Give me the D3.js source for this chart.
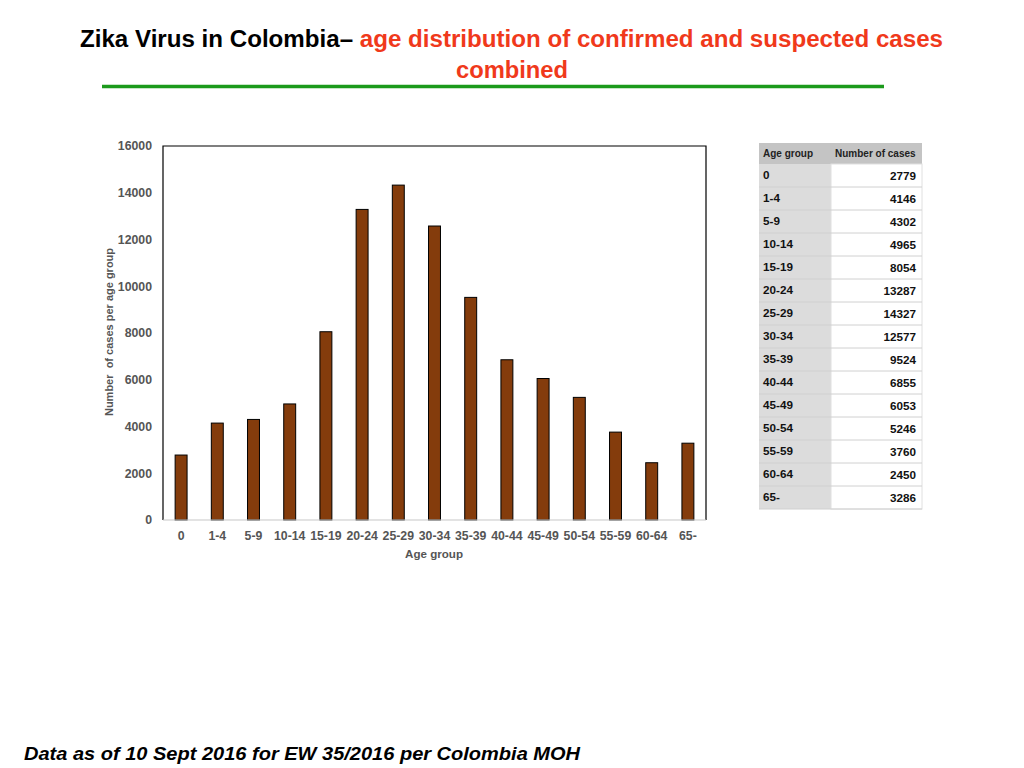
<!DOCTYPE html>
<html><head><meta charset="utf-8">
<script src="https://cdn.jsdelivr.net/npm/d3@7"></script>
<style>body{margin:0;background:#fff;font-family:"Liberation Sans",Arial,sans-serif}</style>
</head><body>
<svg id="c" width="1024" height="768"></svg>
<script>
const categories = ["0","1-4","5-9","10-14","15-19","20-24","25-29","30-34","35-39","40-44","45-49","50-54","55-59","60-64","65-"];
const cases = [2779,4146,4302,4965,8054,13287,14327,12577,9524,6855,6053,5246,3760,2450,3286];
const yTicks = [0,2000,4000,6000,8000,10000,12000,14000,16000];

const svg = d3.select("#c");
const F = "Liberation Sans, Arial, sans-serif";

// Title
const t1 = svg.append("text").attr("x",80).attr("y",47).attr("font-family",F)
  .attr("font-weight","bold").attr("font-size",23.5)
  .attr("textLength",863).attr("lengthAdjust","spacingAndGlyphs");
t1.append("tspan").attr("fill","#000").text("Zika Virus in Colombia\u2013 ");
t1.append("tspan").attr("fill","#f0391b").text("age  distribution of confirmed and suspected cases");
svg.append("text").attr("x",512).attr("y",77.5).attr("text-anchor","middle").attr("font-family",F)
  .attr("font-weight","bold").attr("font-size",23).attr("fill","#f0391b")
  .attr("textLength",112).attr("lengthAdjust","spacingAndGlyphs").text("combined");
svg.append("line").attr("x1",102).attr("x2",884).attr("y1",86.5).attr("y2",86.5)
  .attr("stroke","#1c9a1c").attr("stroke-width",3.5);

// Chart
const L=163,R=706,T=146,B=520;
const x = d3.scaleBand().domain(categories).range([L,R]).paddingInner(0.67).paddingOuter(0.335);
const y = d3.scaleLinear().domain([0,16000]).range([B,T]);

svg.append("g").selectAll("rect").data(cases).join("rect")
  .attr("x",(d,i)=>x(categories[i])).attr("width",x.bandwidth())
  .attr("y",d=>y(d)).attr("height",d=>B-y(d))
  .attr("fill","#843c0c").attr("stroke","#000").attr("stroke-width",1);

// frame
svg.append("path").attr("d",`M${L},${B}V${T}H${R}V${B}`).attr("fill","none").attr("stroke","#000").attr("stroke-width",1.2);
svg.append("line").attr("x1",L).attr("x2",R).attr("y1",B).attr("y2",B).attr("stroke","#c8c8c8").attr("stroke-width",1.2);

const ya = svg.append("g").attr("transform",`translate(${L},0)`)
  .call(d3.axisLeft(y).tickValues(yTicks).tickSize(0).tickPadding(11).tickFormat(d3.format("d")));
ya.select(".domain").remove();
ya.selectAll("text").attr("font-family",F).attr("font-weight","bold").attr("font-size",12.3).attr("fill","#555");

const xa = svg.append("g").attr("transform",`translate(0,${B})`)
  .call(d3.axisBottom(x).tickSize(0).tickPadding(11));
xa.select(".domain").remove();
xa.selectAll("text").attr("font-family",F).attr("font-weight","bold").attr("font-size",12.3).attr("fill","#555");

svg.append("text").attr("x",434).attr("y",558).attr("text-anchor","middle").attr("font-family",F)
  .attr("font-weight","bold").attr("font-size",11.6).attr("fill","#555").text("Age group");
svg.append("text").attr("transform","translate(113,332) rotate(-90)").attr("text-anchor","middle")
  .attr("font-family",F).attr("font-weight","bold").attr("font-size",11).attr("fill","#555")
  .style("white-space","pre")
  .text("Number  of cases per age group");

// Table
const tx=759, tc=831, tr=922, th0=143, th1=164, rh=23;
svg.append("rect").attr("x",tx).attr("y",th0).attr("width",tr-tx).attr("height",th1-th0).attr("fill","#c4c4c4");
svg.append("rect").attr("x",tx).attr("y",th1).attr("width",tc-tx).attr("height",rh*categories.length).attr("fill","#dcdcdc");
svg.append("rect").attr("x",tc).attr("y",th1).attr("width",tr-tc).attr("height",rh*categories.length).attr("fill","#fff").attr("stroke","#e0e0e0");
svg.append("text").attr("x",763).attr("y",157).attr("font-family",F).attr("font-size",10).attr("font-weight","600").attr("fill","#222").text("Age group");
svg.append("text").attr("x",835).attr("y",157).attr("font-family",F).attr("font-size",10).attr("font-weight","600").attr("fill","#222").text("Number of cases");
const rows = svg.append("g").selectAll("g").data(categories).join("g")
  .attr("transform",(d,i)=>`translate(0,${th1+i*rh})`);
rows.append("line").attr("x1",tx).attr("x2",tr).attr("y1",rh).attr("y2",rh).attr("stroke","#d0d0d0").attr("stroke-width",1);
rows.append("text").attr("x",763).attr("y",15).attr("font-family",F).attr("font-weight","bold").attr("font-size",11.7).attr("fill","#111").text(d=>d);
rows.append("text").attr("x",916).attr("y",15.5).attr("text-anchor","end").attr("font-family",F).attr("font-weight","bold").attr("font-size",11.7).attr("fill","#111").text((d,i)=>cases[i]);

// Footer
svg.append("text").attr("x",24).attr("y",760).attr("font-family",F).attr("font-weight","bold").attr("font-style","italic")
  .attr("font-size",18.5).attr("fill","#000").attr("textLength",556).attr("lengthAdjust","spacingAndGlyphs")
  .text("Data as of 10 Sept 2016 for EW 35/2016 per Colombia MOH");
</script>
</body></html>
